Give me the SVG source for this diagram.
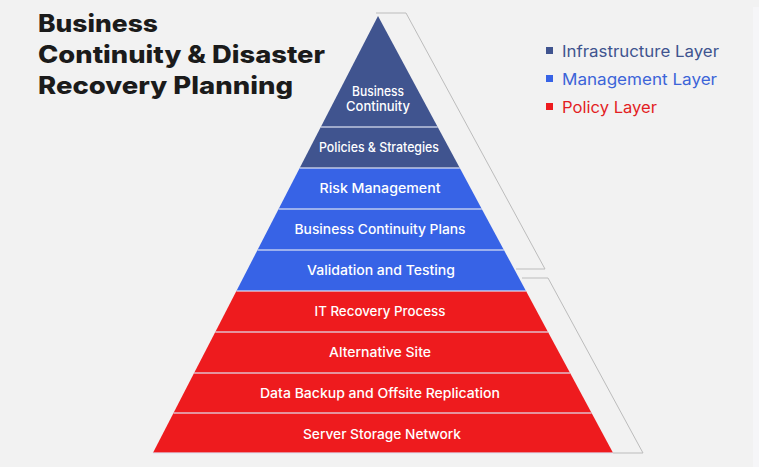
<svg xmlns="http://www.w3.org/2000/svg" width="759" height="467" viewBox="0 0 759 467">
<style>
.title{font-family:Inter,"Liberation Sans",sans-serif;font-weight:800;font-size:24px;fill:#1b1b1b}
.lbl{font-family:Inter,"Liberation Sans",sans-serif;font-weight:500;font-size:13px;fill:#ffffff;text-anchor:middle}
.leg{font-family:Inter,"Liberation Sans",sans-serif;font-weight:400;font-size:16px}
.sep{stroke:#dfe4f5;stroke-width:1.5;opacity:0.8}
.br{fill:none;stroke:#bcbcbc;stroke-width:1}
.navy{fill:#40548f}
.blue{fill:#3763e6}
.red{fill:#ee1b1e}
</style>
<rect width="759" height="467" fill="#f2f2f2"/>
<rect x="753" y="7" width="6" height="460" fill="#f6f6f8"/>
<g id="title">
<text class="title" x="38" y="32" textLength="120" lengthAdjust="spacingAndGlyphs">Business</text>
<text class="title" x="38" y="63" textLength="287" lengthAdjust="spacingAndGlyphs">Continuity &amp; Disaster</text>
<text class="title" x="38" y="94" textLength="255" lengthAdjust="spacingAndGlyphs">Recovery Planning</text>
</g>
<g id="legend">
<rect x="546" y="47" width="7" height="7" class="navy"/>
<text class="leg" x="562" y="57" fill="#40548f" textLength="157" lengthAdjust="spacingAndGlyphs">Infrastructure Layer</text>
<rect x="546" y="75" width="7" height="7" class="blue"/>
<text class="leg" x="562" y="85" fill="#3c64d8" textLength="155" lengthAdjust="spacingAndGlyphs">Management Layer</text>
<rect x="546" y="103" width="7" height="7" class="red"/>
<text class="leg" x="562" y="113" fill="#e31e24" textLength="95" lengthAdjust="spacingAndGlyphs">Policy Layer</text>
</g>
<g id="connectors">
<polyline class="br" points="376,13 406,13 545,269 516,269"/>
<polyline class="br" points="522,278 548,278 643,453 613,453"/>
</g>
<g id="business-continuity">
<polygon class="navy" points="378,16 437.7,127 320.8,127"/>
<text class="lbl" font-weight="400" x="378" y="96" textLength="52" lengthAdjust="spacingAndGlyphs">Business</text>
<text class="lbl" font-weight="400" x="378" y="111" textLength="64" lengthAdjust="spacingAndGlyphs">Continuity</text>
</g>
<g id="policies-strategies">
<polygon class="navy" points="320.8,127 437.7,127 459.8,168 299.7,168"/>
<text class="lbl" x="379" y="152" textLength="120" lengthAdjust="spacingAndGlyphs">Policies &amp; Strategies</text>
</g>
<g id="risk-management">
<polygon class="blue" points="299.7,168 459.8,168 481.8,209 278.6,209"/>
<text class="lbl" x="380" y="193" textLength="121" lengthAdjust="spacingAndGlyphs">Risk Management</text>
</g>
<g id="bc-plans">
<polygon class="blue" points="278.6,209 481.8,209 503.9,250 257.5,250"/>
<text class="lbl" x="380" y="234" textLength="171" lengthAdjust="spacingAndGlyphs">Business Continuity Plans</text>
</g>
<g id="validation-testing">
<polygon class="blue" points="257.5,250 503.9,250 526,291 236.4,291"/>
<text class="lbl" x="381" y="275" textLength="148" lengthAdjust="spacingAndGlyphs">Validation and Testing</text>
</g>
<g id="it-recovery">
<polygon class="red" points="236.4,291 526,291 548,332 215.3,332"/>
<text class="lbl" x="380" y="316" textLength="131" lengthAdjust="spacingAndGlyphs">IT Recovery Process</text>
</g>
<g id="alternative-site">
<polygon class="red" points="215.3,332 548,332 570.1,373 194.1,373"/>
<text class="lbl" x="380" y="357" textLength="102" lengthAdjust="spacingAndGlyphs">Alternative Site</text>
</g>
<g id="data-backup">
<polygon class="red" points="194.1,373 570.1,373 591.6,413 173.5,413"/>
<text class="lbl" x="380" y="398" textLength="240" lengthAdjust="spacingAndGlyphs">Data Backup and Offsite Replication</text>
</g>
<g id="server-storage">
<polygon class="red" points="173.5,413 591.6,413 613.1,453 152.9,453"/>
<text class="lbl" x="382" y="439" textLength="158" lengthAdjust="spacingAndGlyphs">Server Storage Network</text>
</g>
<g id="separators">
<line class="sep" x1="320.8" y1="127" x2="437.7" y2="127"/>
<line class="sep" x1="299.7" y1="168" x2="459.8" y2="168"/>
<line class="sep" x1="278.6" y1="209" x2="481.8" y2="209"/>
<line class="sep" x1="257.5" y1="250" x2="503.9" y2="250"/>
<line class="sep" x1="236.4" y1="291" x2="526" y2="291"/>
<line class="sep" x1="215.3" y1="332" x2="548" y2="332"/>
<line class="sep" x1="194.1" y1="373" x2="570.1" y2="373"/>
<line class="sep" x1="173.5" y1="413" x2="591.6" y2="413"/>
<line class="sep" x1="152.9" y1="453" x2="613.1" y2="453"/>
</g>
</svg>
